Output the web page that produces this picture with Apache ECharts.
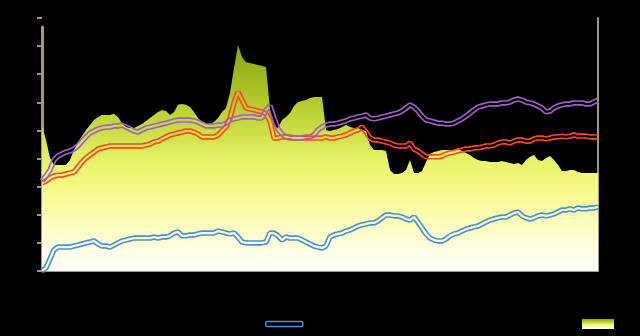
<!DOCTYPE html>
<html>
<head>
<meta charset="utf-8">
<script src="https://cdn.jsdelivr.net/npm/echarts@6/dist/echarts.min.js"></script>
<style>
  html, body { margin: 0; padding: 0; background: #000; }
  #chart { width: 640px; height: 336px; }
</style>
</head>
<body>
<div id="chart"></div>
<script>
// Weekly periods shown along the horizontal axis
const periods = Array.from({ length: 140 }, (_, i) => 'W' + (i + 1));

// Performance index values per period
const fundValues = [
  0.0, 1.1, 4.3, 7.5, 8.5, 8.5, 8.5, 8.5, 8.9, 9.2, 9.6, 10.0, 10.3, 10.7, 9.6, 8.9, 8.9, 8.5, 9.2, 10.0,
  10.7, 11.0, 11.4, 11.7, 11.7, 11.7, 11.7, 11.7, 12.1, 11.7, 12.1, 12.1, 12.5, 13.5, 13.9, 12.5, 12.5, 12.8, 12.8, 13.2,
  13.5, 13.5, 13.5, 13.5, 14.2, 13.9, 13.5, 13.2, 13.5, 12.1, 10.3, 10.0, 10.0, 10.0, 10.0, 10.0, 10.3, 13.5, 13.5, 12.5,
  11.0, 12.1, 11.7, 11.7, 11.7, 11.0, 10.3, 9.6, 8.9, 8.5, 8.2, 8.9, 12.1, 12.8, 13.2, 13.5, 14.2, 14.6, 15.3, 16.0,
  16.4, 16.7, 17.1, 17.1, 17.8, 18.9, 19.9, 19.9, 19.6, 19.6, 19.2, 18.5, 18.1, 19.2, 17.4, 15.3, 13.2, 11.7, 11.0, 10.7,
  10.7, 11.4, 12.5, 13.2, 13.5, 14.2, 14.9, 15.3, 15.7, 16.0, 16.7, 17.4, 18.1, 18.5, 18.9, 19.2, 19.2, 19.9, 20.6, 21.0,
  19.6, 18.9, 18.5, 18.9, 19.6, 19.9, 19.6, 19.9, 20.3, 21.0, 21.7, 21.7, 22.1, 21.7, 22.4, 22.1, 22.1, 22.4, 22.4, 22.8
];
const benchmarkValues = [
  31.3, 32.0, 33.1, 33.8, 34.1, 34.1, 34.5, 34.9, 35.2, 37.0, 38.8, 40.2, 41.3, 42.3, 43.4, 43.8, 44.1, 44.5, 44.5, 44.5,
  44.5, 44.5, 44.5, 44.5, 44.5, 44.5, 44.8, 45.2, 45.9, 46.2, 47.0, 47.7, 48.4, 48.7, 49.1, 49.4, 49.8, 49.8, 49.4, 48.7,
  47.7, 47.7, 47.7, 47.7, 48.4, 49.8, 51.2, 54.4, 59.8, 63.7, 60.8, 58.0, 57.6, 57.3, 56.9, 56.6, 55.9, 53.4, 47.3, 47.3,
  47.7, 47.7, 47.3, 47.3, 47.3, 47.3, 47.3, 47.3, 47.3, 47.3, 47.3, 47.7, 47.3, 47.3, 47.7, 48.0, 48.4, 49.1, 49.8, 50.2,
  51.2, 49.4, 47.3, 46.6, 46.6, 46.2, 45.9, 45.5, 44.8, 44.5, 44.5, 44.5, 45.5, 43.4, 42.7, 41.6, 40.6, 40.6, 40.6, 40.6,
  40.9, 41.6, 42.0, 42.3, 42.7, 43.0, 43.4, 43.4, 43.8, 43.8, 44.1, 44.5, 44.5, 44.8, 45.5, 45.9, 45.9, 45.5, 46.2, 46.6,
  46.6, 46.2, 46.2, 47.0, 47.3, 47.3, 47.0, 47.3, 47.7, 47.7, 48.0, 47.7, 48.0, 48.4, 48.0, 48.0, 48.0, 47.7, 47.7, 47.7
];
const peerValues = [
  32.0, 33.8, 35.9, 39.5, 40.9, 41.6, 42.3, 42.7, 43.4, 44.5, 46.2, 47.7, 49.1, 49.8, 50.5, 50.9, 51.2, 51.2, 51.6, 51.6,
  51.9, 51.2, 50.5, 49.8, 49.4, 50.2, 50.9, 51.2, 51.6, 51.9, 52.3, 52.6, 53.0, 53.4, 53.7, 53.7, 53.7, 53.7, 53.4, 53.0,
  52.3, 51.6, 51.6, 51.6, 51.9, 51.9, 52.6, 53.7, 54.1, 54.4, 54.8, 54.8, 54.8, 54.8, 54.4, 54.4, 57.3, 58.7, 54.4, 50.5,
  48.7, 47.7, 47.7, 47.3, 47.3, 47.3, 47.7, 47.7, 48.4, 50.2, 51.2, 51.9, 52.3, 52.3, 52.6, 53.0, 53.4, 54.1, 54.4, 54.8,
  55.1, 55.5, 54.4, 54.1, 54.4, 54.8, 55.1, 55.5, 55.9, 56.2, 56.9, 58.0, 59.1, 58.3, 56.9, 55.1, 53.7, 53.4, 53.0, 52.6,
  52.6, 52.3, 52.3, 52.6, 53.4, 54.1, 55.1, 56.2, 57.3, 58.3, 58.7, 59.1, 59.4, 59.4, 59.4, 59.8, 59.8, 60.1, 60.8, 61.2,
  60.8, 60.1, 59.8, 59.4, 58.7, 58.0, 56.6, 56.9, 58.0, 58.7, 59.1, 59.4, 59.4, 59.8, 59.8, 59.8, 59.4, 59.4, 60.1, 60.8
];
// Traded volume per period
const volumeValues = [
  51.6, 46.6, 40.2, 37.7, 37.7, 37.7, 37.7, 39.5, 43.0, 45.9, 48.0, 50.2, 51.9, 53.7, 54.8, 55.5, 55.5, 55.5, 55.9, 54.8,
  52.6, 51.2, 50.9, 50.9, 51.6, 52.3, 53.4, 54.4, 55.5, 56.6, 57.3, 56.9, 55.5, 56.6, 59.1, 59.4, 59.1, 58.3, 56.6, 54.4,
  53.0, 52.3, 52.3, 53.0, 54.4, 56.6, 58.0, 63.3, 72.2, 80.4, 76.1, 74.3, 74.0, 73.6, 73.3, 72.9, 72.6, 57.3, 51.6, 50.9,
  53.7, 54.8, 56.2, 58.7, 60.1, 60.5, 60.8, 61.5, 61.9, 61.9, 61.9, 50.2, 49.8, 50.2, 50.5, 51.2, 51.9, 51.2, 50.9, 50.9,
  50.2, 49.8, 44.8, 43.0, 43.0, 43.0, 42.7, 35.9, 34.5, 34.5, 34.9, 35.9, 39.5, 34.9, 34.9, 35.6, 38.8, 41.6, 42.3, 42.7,
  43.0, 43.0, 43.0, 43.0, 43.4, 42.7, 42.0, 41.3, 40.2, 39.5, 39.1, 39.1, 38.8, 38.8, 38.8, 39.1, 38.8, 38.4, 38.1, 38.4,
  37.7, 39.5, 40.6, 41.3, 39.5, 39.1, 40.2, 40.9, 39.5, 37.7, 35.6, 35.6, 35.9, 35.9, 35.2, 34.9, 34.9, 34.9, 34.9, 34.9
];

const AXIS = '#a39a7e';
const BLUE = '#4a8fd8';
const RED = '#ff4626';
const PURPLE = '#9c62c0';

const volumeGradient = () => new echarts.graphic.LinearGradient(0, 0, 0, 1, [
  { offset: 0.00, color: '#88a212' },
  { offset: 0.24, color: '#b2c92a' },
  { offset: 0.38, color: '#cbde44' },
  { offset: 0.51, color: '#e7f266' },
  { offset: 0.64, color: '#f7fa88' },
  { offset: 0.77, color: '#fbfcb4' },
  { offset: 0.91, color: '#fefee4' },
  { offset: 1.00, color: '#ffffff' }
]);

// Each index line is drawn as a hollow double stroke: a wide coloured
// stroke on its own layer, with its core cut out by a narrower stroke.
function hollowLine(name, data, color, layer) {
  const base = {
    name: name,
    type: 'line',
    data: data,
    xAxisIndex: 0,
    yAxisIndex: 0,
    showSymbol: false,
    symbol: 'none',
    silent: true,
    zlevel: layer,
    animation: false
  };
  return [
    Object.assign({}, base, { lineStyle: { color: color, width: 5.5 }, itemStyle: { color: color }, z: 2 }),
    Object.assign({}, base, { lineStyle: { color: '#000', width: 2.2 }, itemStyle: { color: color }, z: 3, blendMode: 'destination-out' })
  ];
}

const chart = echarts.init(document.getElementById('chart'), null, { renderer: 'canvas' });

chart.setOption({
  backgroundColor: '#000',
  animation: false,
  grid: [
    { left: 42, right: 42, top: 18, bottom: 65 },
    { left: 42, right: 42, top: 27, bottom: 65 }
  ],
  legend: [
    {
      left: 265, top: 318, padding: 0, itemWidth: 37, itemHeight: 5, itemGap: 10,
      textStyle: { color: '#000', fontSize: 12, fontFamily: 'Noto Sans' },
      data: [{ name: 'Fund', icon: 'roundRect', itemStyle: { color: 'transparent', borderColor: BLUE, borderWidth: 1.5 } }],
      selectedMode: false
    },
    {
      left: 582, top: 318, padding: 0, itemWidth: 32, itemHeight: 10,
      textStyle: { color: '#000', fontSize: 12, fontFamily: 'Noto Sans' },
      data: [{ name: 'Volume', icon: 'rect', itemStyle: { color: volumeGradient() } }],
      selectedMode: false
    }
  ],
  xAxis: [
    {
      type: 'category', gridIndex: 0, data: periods, boundaryGap: false,
      axisLine: { show: true, lineStyle: { color: AXIS, width: 2 } },
      axisTick: { show: false },
      axisLabel: { color: '#000' },
      splitLine: { show: false }
    },
    { type: 'category', gridIndex: 1, data: periods, show: false }
  ],
  yAxis: [
    {
      type: 'value', gridIndex: 0, min: 0, max: 90, interval: 10,
      axisLine: { show: false },
      axisTick: { show: true, length: 5, lineStyle: { color: AXIS, width: 2 } },
      axisLabel: { color: '#000' },
      splitLine: { show: false }
    },
    {
      type: 'value', gridIndex: 0, position: 'right', min: 0, max: 90, interval: 10,
      axisLine: { show: true, lineStyle: { color: AXIS, width: 2 } },
      axisTick: { show: false },
      axisLabel: { show: false },
      splitLine: { show: false }
    },
    {
      type: 'value', gridIndex: 1, position: 'left', min: 0, max: 1,
      axisLine: { show: true, lineStyle: { color: AXIS, width: 3 } },
      axisTick: { show: false },
      axisLabel: { show: false },
      splitLine: { show: false }
    }
  ],
  series: [
    {
      name: 'Volume',
      type: 'line',
      data: volumeValues,
      xAxisIndex: 0,
      yAxisIndex: 1,
      showSymbol: false,
      symbol: 'none',
      silent: true,
      lineStyle: { width: 0 },
      itemStyle: { color: '#b2c92a' },
      areaStyle: { color: volumeGradient(), opacity: 1 },
      z: 1
    },
    ...hollowLine('Fund', fundValues, BLUE, 1),
    ...hollowLine('Benchmark', benchmarkValues, RED, 2),
    ...hollowLine('Peers', peerValues, PURPLE, 3)
  ]
});
</script>
</body>
</html>
